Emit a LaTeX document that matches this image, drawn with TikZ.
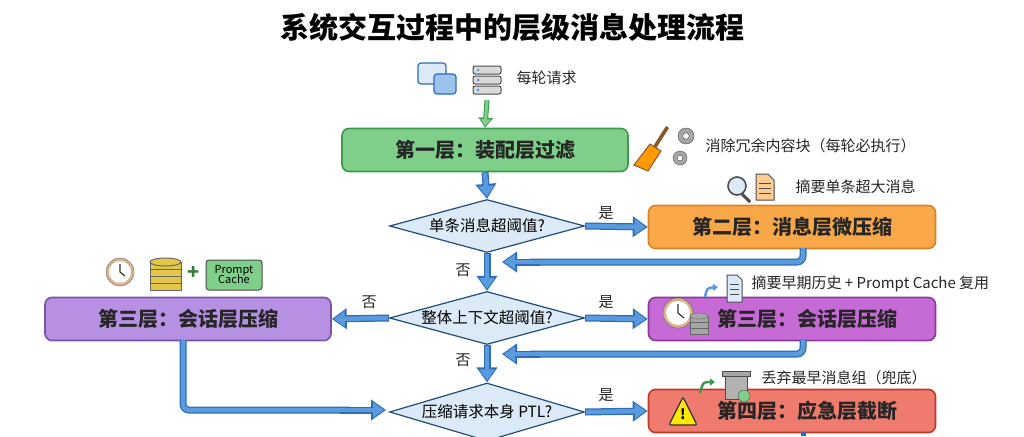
\documentclass[tikz,border=0pt]{standalone}
\usepackage{fontspec}
\setmainfont{Noto Sans CJK SC}
\usetikzlibrary{shapes.geometric,arrows.meta}
\definecolor{bl}{HTML}{5A9BE0}
\definecolor{bld}{HTML}{2E6DB5}
\definecolor{dia}{HTML}{DCEAF7}
\definecolor{gr}{HTML}{7FCF8A}
\definecolor{grd}{HTML}{3E9A4C}
\definecolor{orf}{HTML}{F8A848}
\definecolor{ord}{HTML}{D9822A}
\definecolor{puf}{HTML}{B690E2}
\definecolor{pud}{HTML}{7A52A8}
\definecolor{mgf}{HTML}{C66AD6}
\definecolor{mgd}{HTML}{8C3A9C}
\definecolor{rdf}{HTML}{EF7B6E}
\definecolor{rdd}{HTML}{C0392B}
\begin{document}
\begin{tikzpicture}[x=1pt,y=-1pt,
  box/.style={draw, line width=1.6, rounded corners=7, minimum height=43, font=\fontsize{20}{22}\selectfont\bfseries, text=black!85},
  dmd/.style={diamond, draw=bld!70!black, line width=1.2, fill=dia, inner sep=0, shape aspect=3.75, minimum width=195, minimum height=53, font=\fontsize{15.5}{17}\selectfont},
  lab/.style={font=\fontsize{15}{17}\selectfont, text=black!85},
  arr/.style={draw=bld, line width=7, -{Triangle[length=15,width=20]}},
  arri/.style={draw=bl, line width=4.5, -{Triangle[length=11,width=15]}},
  ret/.style={draw=bld, line width=7, rounded corners=6},
  reti/.style={draw=bl, line width=4.5, rounded corners=6}]
\useasboundingbox (0,0) rectangle (1024,436);
\fill[white] (0,0) rectangle (1024,436);
\node[font=\fontsize{29}{32}\selectfont\bfseries] (title) at (512,27) {系统交互过程中的层级消息处理流程};
% top icons
\fill[dia, draw=bld, line width=1.2, rounded corners=3] (418,63) rectangle (446,84);
\fill[bl!60, draw=bld, line width=1.2, rounded corners=3] (434,74) rectangle (456,94);
\foreach \yy in {66,76,86}{\fill[gray!30, draw=black!70, line width=1, rounded corners=2] (473,\yy) rectangle (501,\yy+8);
 \fill[bl] (478,\yy+4) circle (1.5);}
\node[lab, anchor=west] (req) at (513,78) {每轮请求};
\coordinate (start) at (487,100);
% nodes
\node[box, draw=grd, fill=gr, minimum width=286] (b1) at (485,150) {第一层：装配层过滤};
\node[dmd] (d1) at (487,226) {单条消息超阈值?};
\node[box, draw=ord, fill=orf, minimum width=287] (b2) at (792,227) {第二层：消息层微压缩};
\node[dmd] (d2) at (487,318) {整体上下文超阈值?};
\node[box, draw=pud, fill=puf, minimum width=286] (b3l) at (188,319) {第三层：会话层压缩};
\node[box, draw=mgd, fill=mgf, minimum width=287] (b3r) at (792,319) {\hspace*{30pt}第三层：会话层压缩};
\node[dmd, minimum height=58] (d3) at (487,412) {压缩请求本身 PTL?};
\node[box, draw=rdd, fill=rdf, minimum width=287] (b4) at (792,411) {\hspace*{30pt}第四层：应急层截断};
% green arrow
\draw[draw=grd, line width=5, -{Triangle[length=10,width=14]}] (start) -- (b1.north);
\draw[draw=gr, line width=3, -{Triangle[length=7,width=10]}, shorten >=1.5] (start) -- (b1.north);
% main arrows
\foreach \a/\b in {b1.south/d1.north, d1.south/d2.north, d2.south/d3.north, d1.east/b2.west, d2.east/b3r.west, d2.west/b3l.east, d3.east/b4.west}{
  \draw[arr] (\a) -- (\b); \draw[arri, shorten >=2, shorten <=1] (\a) -- (\b);}
% returns
\coordinate (r1) at (502,262);
\coordinate (r2) at (502,354);
\coordinate (l3) at (386,410);
\draw[ret] (803,248) -- (803,262) -- (530,262); \draw[reti] (803,248) -- (803,262) -- (530,262);
\draw[arr] (540,262) -- (r1); \draw[arri,shorten >=2] (540,262) -- (r1);
\draw[ret] (803,340) -- (803,354) -- (530,354); \draw[reti] (803,340) -- (803,354) -- (530,354);
\draw[arr] (540,354) -- (r2); \draw[arri,shorten >=2] (540,354) -- (r2);
\draw[ret] (183,340) -- (183,410) -- (350,410); \draw[reti] (183,340) -- (183,410) -- (350,410);
\draw[arr] (340,410) -- (l3); \draw[arri,shorten >=2] (340,410) -- (l3);
\draw[draw=bld, line width=5] (803,432) -- (803,436);
% labels
\node[lab] (y1) at (606,213) {是};
\node[lab] (y2) at (606,302) {是};
\node[lab] (y3) at (606,395) {是};
\node[lab] (n1) at (463,270) {否};
\node[lab] (n2) at (463,360) {否};
\node[lab] (n3) at (369,302) {否};
% broom + gears
\fill[brown!70!black] (666,126) -- (669,128) -- (655,150) -- (652,148) -- cycle;
\fill[orange!80!yellow, draw=brown!70!black, line width=1] (650,144) -- (661,151) -- (648,171) -- (634,165) -- cycle;
\foreach \cx/\cy/\r in {686/136/8, 680/158/7}{\fill[gray!70, draw=black!70] (\cx,\cy) circle (\r); \fill[white, draw=black!70] (\cx,\cy) circle (\r*0.4);}
\node[lab, anchor=west] (t1) at (702,146) {消除冗余内容块（每轮必执行）};
% magnifier + doc
\draw[black!70, line width=3] (742,194) -- (750,202);
\fill[dia, draw=black!70, line width=1.6] (737,186) circle (9);
\fill[orf!60, draw=black!70, line width=1] (756,174) -- (768,174) -- (774,180) -- (774,200) -- (756,200) -- cycle;
\foreach \yy in {183,188,193}{\draw[black!70] (759,\yy) -- (771,\yy);}
\node[lab, anchor=west] (t2) at (792,187) {摘要单条超大消息};
% left session icons
\fill[brown!60, draw=black!60] (120,272) circle (14); \fill[white] (120,272) circle (11);
\draw[black!80, line width=1.2] (120,272) -- (120,264) (120,272) -- (125,276);
\foreach \yy in {283,276,269,262}{\fill[yellow!50!brown!90, draw=black!60, line width=1] (150,\yy) rectangle (181,\yy+7);}
\fill[yellow!50!brown!90, draw=black!60, line width=1] (165.5,262) ellipse (15.5 and 4);
\node[text=grd!80!black, font=\fontsize{20}{20}\selectfont\bfseries] (plus) at (194,273) {+};
\node[draw=black!70, fill=gr, rounded corners=3, line width=1, font=\fontsize{11}{12}\selectfont, align=center, inner sep=2, minimum width=56, minimum height=30] (pc) at (234,275) {Prompt\\[-2pt]Cache};
% right session icons
\fill[brown!60, draw=black!60] (678,313) circle (15); \fill[white] (678,313) circle (12);
\draw[black!80, line width=1.2] (678,313) -- (678,304) (678,313) -- (684,318);
\foreach \yy in {328,322,316}{\fill[gray!70, draw=black!60, line width=1] (690,\yy) rectangle (708,\yy+6);}
\fill[gray!70, draw=black!60] (699,316) ellipse (9 and 3);
\fill[dia, draw=black!70, line width=1] (727,275) -- (737,275) -- (742,280) -- (742,302) -- (727,302) -- cycle;
\foreach \yy in {284,289,294}{\draw[black!70] (730,\yy) -- (739,\yy);}
\draw[bl, line width=2.5, -{Triangle[length=5,width=7]}] (705,297) .. controls (707,288) .. (718,287);
\node[lab, anchor=west] (t3) at (748,284) {摘要早期历史 + Prompt Cache 复用};
% warning
\fill[yellow!90!orange, draw=black!80, line width=1.2, rounded corners=2] (683,397) -- (697,425) -- (669,425) -- cycle;
\node[font=\fontsize{14}{14}\selectfont\bfseries] (ex) at (683,414) {!};
% trash
\fill[gray!60, draw=black!70, line width=1] (725,375) rectangle (747,399);
\fill[gray!70, draw=black!70] (722,371) rectangle (750,376);
\fill[gr, draw=black!70] (744,396) circle (6);
\draw[grd, line width=2.5, -{Triangle[length=5,width=7]}] (700,393) .. controls (703,382) .. (715,382);
\node[lab, anchor=west] (t4) at (758,378) {丢弃最早消息组（兜底）};
\end{tikzpicture}
\end{document}
